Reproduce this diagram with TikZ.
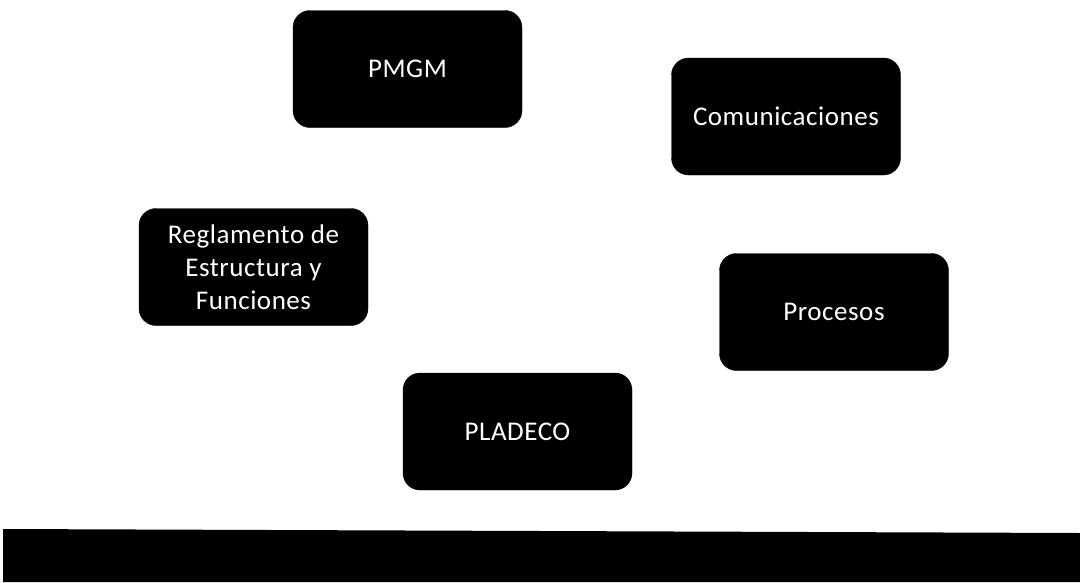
\documentclass[tikz,border=0pt]{standalone}
\usepackage{fontspec}
\setmainfont{Carlito}[LetterSpace=2]
\begin{document}
\begin{tikzpicture}[x=1pt,y=-1pt,
  blk/.style={draw=black,fill=black,rounded corners=17pt,minimum width=229pt,minimum height=117pt,
    text=white,font=\fontsize{27}{33}\selectfont,align=center,inner sep=0pt}]
\useasboundingbox (0,0) rectangle (1080,582);
\fill[white] (0,0) rectangle (1080,582);
\node[blk] (pmgm) at (407.5,69) {PMGM};
\node[blk] (com) at (786,116.5) {Comunicaciones};
\node[blk] (reg) at (253.5,267) {Reglamento de\\Estructura y\\Funciones};
\node[blk] (proc) at (834,312) {Procesos};
\node[blk] (plad) at (517.5,431.5) {PLADECO};
\fill[black] (3,529) -- (1080,533) -- (1080,582) -- (3,582) -- cycle;
\end{tikzpicture}
\end{document}
